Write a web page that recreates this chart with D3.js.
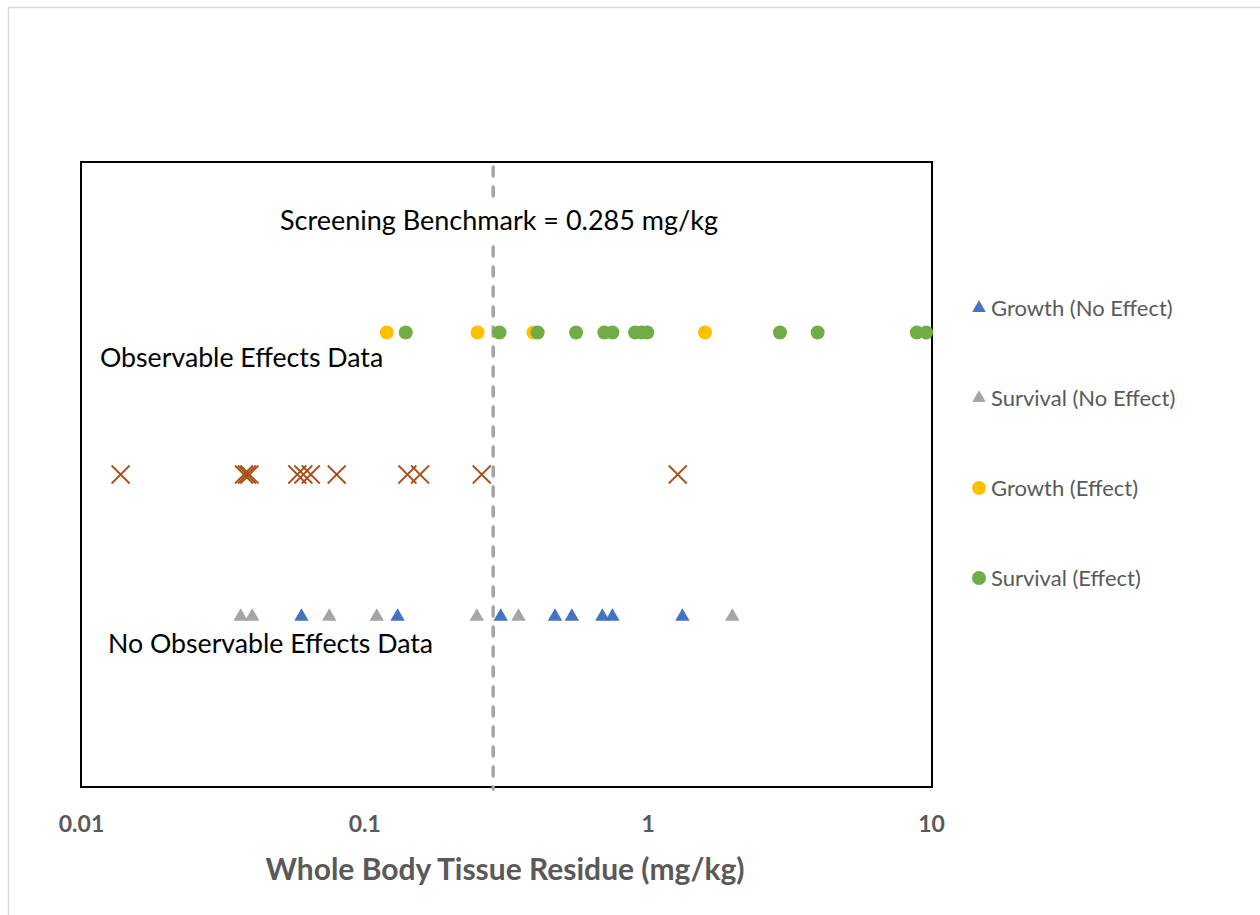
<!DOCTYPE html>
<html><head><meta charset="utf-8">
<script src="https://cdn.jsdelivr.net/npm/d3@7"></script>
<style>html,body{margin:0;padding:0;background:#fff;}svg{display:block;font-family:Lato,"Open Sans",sans-serif;}</style>
</head><body><svg id="c" width="1260" height="915"></svg>
<script>
// ---- data ----
const xTicks = [0.01, 0.1, 1, 10];
const xTickLabels = ["0.01", "0.1", "1", "10"];
const benchmark = 0.285;
const rowLevels = {effect: 8, other: 5.5, noEffect: 3};
const growthNoEffect = [0.060, 0.131, 0.303, 0.471, 0.540, 0.692, 0.751, 1.326];
const survivalNoEffect = [0.0366, 0.0402, 0.0752, 0.1106, 0.2494, 0.350, 1.99];
const growthEffect = [0.120, 0.251, 0.395, 1.594];
const survivalEffect = [0.140, 0.300, 0.409, 0.559, 0.703, 0.751, 0.903, 0.953, 0.997, 2.93, 3.98, 8.91, 9.61];
const otherData = [0.0138, 0.0376, 0.0385, 0.0393, 0.058, 0.0609, 0.0647, 0.0799, 0.1419, 0.1573, 0.2597, 1.277];
const legendLabels = ["Growth (No Effect)", "Survival (No Effect)", "Growth (Effect)", "Survival (Effect)"];

// ---- layout ----
const svg = d3.select("#c");
const L = 81, R = 932, T = 162, B = 787;
const x = d3.scaleLog().domain([0.01, 10]).range([81, 931]);
const y = d3.scaleLinear().domain([0, 11]).range([B, T]);

svg.append("rect").attr("width",1260).attr("height",915).attr("fill","#fff");
svg.append("rect").attr("x",8.5).attr("y",7.5).attr("width",1400).attr("height",1000)
  .attr("fill","none").attr("stroke","#D9D9D9").attr("stroke-width",1.5);

svg.append("rect").attr("x",L).attr("y",T).attr("width",R-L).attr("height",B-T)
  .attr("fill","none").attr("stroke","#000").attr("stroke-width",2);

const ax = svg.append("g").attr("transform",`translate(0,${B})`)
  .call(d3.axisBottom(x).tickValues(xTicks).tickFormat((d,i)=>xTickLabels[i]).tickSize(0).tickPadding(29));
ax.select(".domain").remove();
ax.selectAll("text").attr("font-family","Lato, sans-serif").attr("font-size",23).attr("font-weight","bold").attr("fill","#595959");

svg.append("text").attr("x",505).attr("y",880).attr("text-anchor","middle")
  .attr("font-size",30).attr("font-weight","bold").attr("fill","#595959")
  .text("Whole Body Tissue Residue (mg/kg)");

svg.append("line").attr("x1",x(benchmark)).attr("x2",x(benchmark)).attr("y1",T+5).attr("y2",B+2)
  .attr("stroke","#A5A5A5").attr("stroke-width",3.5).attr("stroke-dasharray","9 11").attr("stroke-linecap","round");

const bgRect = svg.append("rect").attr("fill","#fff");
const bt = svg.append("text").attr("x",499).attr("y",230).attr("text-anchor","middle")
  .attr("font-size",27).attr("fill","#000").text("Screening Benchmark = 0.285 mg/kg");
const bb = bt.node().getBBox();
bgRect.attr("x",bb.x-4).attr("y",bb.y).attr("width",bb.width+8).attr("height",bb.height+2);

svg.append("text").attr("x",100).attr("y",367).attr("font-size",26.7).attr("fill","#000").text("Observable Effects Data");
svg.append("text").attr("x",108).attr("y",653).attr("font-size",26.7).attr("fill","#000").text("No Observable Effects Data");

const tri = d3.symbol().type(d3.symbolTriangle).size(90);
function triangles(data, color){
  svg.append("g").selectAll("path").data(data).join("path")
    .attr("d", tri).attr("fill", color)
    .attr("transform", d=>`translate(${x(d)},${y(rowLevels.noEffect)})`);
}
function circles(data, color){
  svg.append("g").selectAll("circle").data(data).join("circle")
    .attr("cx", d=>x(d)).attr("cy", y(rowLevels.effect)).attr("r",7).attr("fill", color);
}
triangles(growthNoEffect, "#4472C4");
triangles(survivalNoEffect, "#A5A5A5");
circles(growthEffect, "#FFC000");
circles(survivalEffect, "#70AD47");
svg.append("g").selectAll("path").data(otherData).join("path")
  .attr("d","M-9,-9L9,9M-9,9L9,-9").attr("fill","none").attr("stroke","#A9501A").attr("stroke-width",1.8)
  .attr("transform", d=>`translate(${x(d)},${y(rowLevels.other)})`);

const legendColors = ["#4472C4","#A5A5A5","#FFC000","#70AD47"];
const legendShapes = ["tri","tri","circle","circle"];
const legY = [308, 398, 488, 578];
legendLabels.forEach((lab,i)=>{
  const g = svg.append("g").attr("transform",`translate(979,${legY[i]})`);
  if(legendShapes[i]==="tri") g.append("path").attr("d", d3.symbol().type(d3.symbolTriangle).size(80)).attr("fill",legendColors[i]);
  else g.append("circle").attr("r",7).attr("fill",legendColors[i]);
  g.append("text").attr("x",12).attr("y",7.5).attr("font-size",22).attr("fill","#595959").text(lab);
});
</script></body></html>
